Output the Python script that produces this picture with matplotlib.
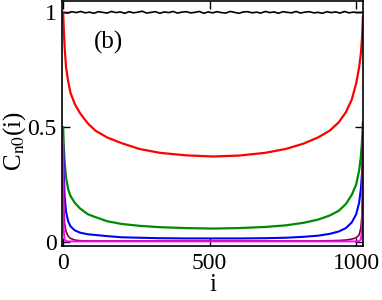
import matplotlib
matplotlib.use("Agg")
import matplotlib.pyplot as plt

plt.rcParams['font.family'] = ['Liberation Serif', 'DejaVu Serif']
plt.rcParams['mathtext.fontset'] = 'stix'

# site index positions where curves were read
site = [0, 2, 5, 10, 17, 25, 40, 58, 85, 110, 150, 200, 260, 330, 420, 511,
        600, 690, 760, 820, 870, 910, 940, 965, 985, 1000, 1010, 1016, 1020, 1023]

red = [1.0, 0.93, 0.85, 0.76, 0.70, 0.65, 0.60, 0.56, 0.515, 0.485, 0.455, 0.43, 0.405, 0.388, 0.377, 0.372,
       0.376, 0.388, 0.405, 0.428, 0.455, 0.485, 0.52, 0.565, 0.62, 0.69, 0.76, 0.82, 0.89, 0.98]
green = [0.5, 0.42, 0.35, 0.28, 0.23, 0.20, 0.17, 0.145, 0.12, 0.108, 0.09, 0.078, 0.07, 0.064, 0.06, 0.058,
         0.06, 0.065, 0.072, 0.083, 0.097, 0.115, 0.135, 0.165, 0.205, 0.25, 0.31, 0.37, 0.44, 0.52]
blue = [0.42, 0.30, 0.20, 0.13, 0.09, 0.068, 0.05, 0.04, 0.033, 0.03, 0.025, 0.02, 0.018, 0.016, 0.015, 0.015,
        0.015, 0.016, 0.018, 0.022, 0.027, 0.035, 0.045, 0.06, 0.085, 0.12, 0.17, 0.23, 0.30, 0.42]
maroon = [0.30, 0.15, 0.08, 0.045, 0.025, 0.015, 0.008, 0.005, 0.004, 0.004, 0.004, 0.004, 0.004, 0.004, 0.004, 0.004,
          0.004, 0.004, 0.004, 0.004, 0.004, 0.005, 0.006, 0.008, 0.012, 0.018, 0.03, 0.06, 0.12, 0.30]
magenta = [0.45, 0.05, 0.01, 0.003, 0.002, 0.002, 0.002, 0.002, 0.002, 0.002, 0.002, 0.002, 0.002, 0.002, 0.002, 0.002,
           0.002, 0.002, 0.002, 0.002, 0.002, 0.002, 0.002, 0.002, 0.002, 0.002, 0.003, 0.01, 0.05, 0.45]

black_site = [0, 15, 30, 45, 60, 75, 90, 105, 120, 135, 150, 165, 180, 195, 210, 225, 240, 255, 270, 285,
              300, 315, 330, 345, 360, 375, 390, 405, 420, 435, 450, 465, 480, 495, 510, 525, 540, 555,
              570, 585, 600, 615, 630, 645, 660, 675, 690, 705, 720, 735, 750, 765, 780, 795, 810, 825,
              840, 855, 870, 885, 900, 915, 930, 945, 960, 975, 990, 1005, 1023]
black = [1.0, 0.997, 1.003, 0.999, 1.004, 0.998, 1.001, 0.996, 1.003, 1.0, 0.997, 1.004, 0.999, 1.002, 0.996,
         1.003, 0.998, 1.001, 1.005, 0.997, 1.0, 1.003, 0.996, 1.002, 0.999, 1.004, 0.997, 1.001, 1.003, 0.998,
         1.0, 1.004, 0.996, 1.002, 0.998, 1.003, 0.999, 0.997, 1.004, 1.0, 0.996, 1.002, 1.003, 0.998, 1.001,
         0.997, 1.004, 0.999, 1.002, 0.996, 1.003, 1.0, 0.998, 1.004, 0.997, 1.001, 1.003, 0.998, 1.0, 0.996,
         1.003, 0.999, 1.002, 0.997, 1.004, 0.998, 1.001, 0.999, 1.0]

xticks = [0, 500, 1000]
yticks = [0, 0.5, 1]
yticklabels = ['0', '0.5', '1']

fig = plt.figure(figsize=(3.82, 3.0), dpi=100)
ax = fig.add_axes([0.163, 0.18, 0.787, 0.817])

ax.plot(black_site, black, color='black', lw=1.2)
ax.plot(site, red, color='#ff0000', lw=1.6)
ax.plot(site, green, color='#008a00', lw=1.6)
ax.plot(site, blue, color='#0000ff', lw=1.5)
ax.plot(site, maroon, color='#800040', lw=1.2)
ax.plot(site, magenta, color='#ff00ff', lw=1.4)

ax.set_xlim(-3, 1023)
ax.set_ylim(-0.018, 1.05)
ax.set_xticks(xticks)
ax.set_xticklabels([str(t) for t in xticks])
ax.set_yticks(yticks)
ax.set_yticklabels(yticklabels)
ax.tick_params(axis='x', pad=5)
ax.tick_params(axis='y', pad=4)
ax.tick_params(direction='in', length=6, width=1, top=True, right=True, labelsize=17)
for s in ax.spines.values():
    s.set_linewidth(1.2)

ax.set_xlabel('i', fontsize=18, labelpad=0)
ax.set_ylabel(r'C$_{\mathrm{n0}}$(i)', fontsize=18)
ax.yaxis.set_label_coords(-0.115, 0.43)
ax.text(0.155, 0.83, '(b)', transform=ax.transAxes, fontsize=18, ha='center', va='center')

fig.savefig('out.png', dpi=100)
